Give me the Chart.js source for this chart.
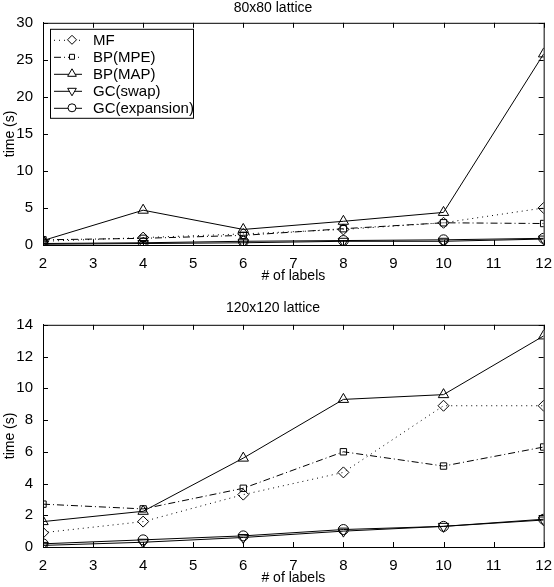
<!DOCTYPE html>
<html>
<head>
<meta charset="utf-8">
<script src="https://cdn.jsdelivr.net/npm/chart.js@4"></script>
<style>
  body { margin: 0; background: #fff; }
  .box { position: relative; width: 554px; }
</style>
</head>
<body>
<div class="box" style="height:290px"><canvas id="top"></canvas></div>
<div class="box" style="height:297px"><canvas id="bottom"></canvas></div>
<script>
const labels = [2, 4, 6, 8, 10, 12];
const seriesNames = ['MF', 'BP(MPE)', 'BP(MAP)', 'GC(swap)', 'GC(expansion)'];

// 80x80 lattice
const mf80 = [0.5, 1.0, 1.5, 2.1, 3.0, 5.0];
const mpe80 = [0.7, 0.9, 1.3, 2.2, 3.0, 2.9];
const map80 = [0.6, 4.7, 2.1, 3.2, 4.4, 25.8];
const swap80 = [0.1, 0.2, 0.3, 0.5, 0.5, 0.8];
const exp80 = [0.2, 0.3, 0.5, 0.6, 0.7, 0.9];

// 120x120 lattice
const mf120 = [0.9, 1.6, 3.3, 4.7, 8.9, 8.9];
const mpe120 = [2.7, 2.4, 3.7, 6.0, 5.1, 6.3];
const map120 = [1.6, 2.25, 5.6, 9.3, 9.6, 13.3];
const swap120 = [0.1, 0.3, 0.6, 1.0, 1.3, 1.7];
const exp120 = [0.2, 0.45, 0.7, 1.1, 1.3, 1.75];

const styles = [
  { dash: [1, 4], point: 'rectRot', rot: 0, r: 5.5 },
  { dash: [7, 3, 1, 3], point: 'rect', rot: 0, r: 4.5 },
  { dash: [], point: 'triangle', rot: 0, r: 6 },
  { dash: [], point: 'triangle', rot: 180, r: 6 },
  { dash: [], point: 'circle', rot: 0, r: 5 }
];

const FONT = '"Liberation Sans", Arial, sans-serif';

function makeSets(arrs) {
  return arrs.map((d, i) => ({
    label: seriesNames[i],
    data: d.map((v, j) => ({ x: labels[j], y: v })),
    borderColor: '#000',
    backgroundColor: 'rgba(255,255,255,0)',
    borderWidth: 1,
    borderDash: styles[i].dash,
    pointStyle: styles[i].point,
    pointRotation: styles[i].rot,
    pointRadius: styles[i].r,
    pointBorderWidth: 1,
    pointBorderColor: '#000',
    pointBackgroundColor: 'rgba(255,255,255,0)',
    tension: 0
  }));
}

// box + inward ticks like the original
const frame = {
  id: 'frame',
  afterDraw(chart) {
    const { ctx, chartArea: a, scales } = chart;
    ctx.save();
    ctx.strokeStyle = '#000';
    ctx.lineWidth = 1;
    ctx.setLineDash([]);
    ctx.strokeRect(a.left + 0.5, a.top + 0.5, a.right - a.left, a.bottom - a.top);
    ctx.beginPath();
    for (const t of scales.x.ticks) {
      const px = Math.round(scales.x.getPixelForValue(t.value)) + 0.5;
      ctx.moveTo(px, a.bottom);
      ctx.lineTo(px, a.bottom - 5);
      ctx.moveTo(px, a.top);
      ctx.lineTo(px, a.top + 5);
    }
    for (const t of scales.y.ticks) {
      const py = Math.round(scales.y.getPixelForValue(t.value)) + 0.5;
      ctx.moveTo(a.left, py);
      ctx.lineTo(a.left + 5, py);
      ctx.moveTo(a.right, py);
      ctx.lineTo(a.right - 5, py);
    }
    ctx.stroke();
    ctx.restore();
  }
};

// matlab style legend box inside the top chart
const boxLegend = {
  id: 'boxLegend',
  afterDraw(chart, args, opts) {
    if (!opts.show) return;
    const { ctx, chartArea: a } = chart;
    const x0 = a.left + 7, y0 = a.top + 6, w = 143, h = 89, rowH = 17;
    ctx.save();
    ctx.fillStyle = '#fff';
    ctx.fillRect(x0, y0, w, h);
    ctx.strokeStyle = '#000';
    ctx.lineWidth = 1;
    ctx.strokeRect(x0 + 0.5, y0 + 0.5, w, h);
    chart.data.datasets.forEach((ds, i) => {
      const cy = y0 + 11 + i * rowH;
      ctx.strokeStyle = '#000';
      ctx.setLineDash(ds.borderDash);
      ctx.beginPath();
      ctx.moveTo(x0 + 4, cy + 0.5);
      ctx.lineTo(x0 + 32, cy + 0.5);
      ctx.stroke();
      ctx.setLineDash([]);
      ctx.fillStyle = '#fff';
      Chart.helpers.drawPoint(ctx, {
        pointStyle: ds.pointStyle, rotation: ds.pointRotation,
        radius: ds.pointRadius - 1, borderWidth: 1
      }, x0 + 22, cy);
      ctx.fillStyle = '#000';
      ctx.font = '15px ' + FONT;
      ctx.textBaseline = 'middle';
      ctx.fillText(ds.label, x0 + 43, cy + 1);
    });
    ctx.restore();
  }
};

function makeChart(id, sets, title, yMax, yStep, pad, titlePad, legend) {
  return new Chart(document.getElementById(id), {
    type: 'line',
    data: { datasets: makeSets(sets) },
    plugins: [frame, boxLegend],
    options: {
      responsive: true,
      maintainAspectRatio: false,
      animation: false,
      layout: { padding: pad },
      plugins: {
        legend: { display: false },
        tooltip: { enabled: false },
        title: {
          display: true, text: title, color: '#000',
          font: { family: FONT, size: 14, weight: 'normal' },
          padding: titlePad
        },
        boxLegend: { show: legend }
      },
      scales: {
        x: {
          type: 'linear', min: 2, max: 12,
          ticks: { stepSize: 1, color: '#000', padding: 2, font: { family: FONT, size: 15 } },
          grid: { display: false },
          border: { color: '#000' },
          title: { display: true, text: '# of labels', color: '#000', padding: { top: 1, bottom: 0 }, font: { family: FONT, size: 14 } },
          afterFit: s => { s.height = 40; }
        },
        y: {
          min: 0, max: yMax,
          ticks: { stepSize: yStep, color: '#000', padding: 2, font: { family: FONT, size: 15 } },
          grid: { display: false },
          border: { color: '#000' },
          title: { display: true, text: 'time (s)', color: '#000', padding: 0, font: { family: FONT, size: 14 } },
          afterFit: s => { s.width = 41; }
        }
      }
    }
  });
}

makeChart('top', [mf80, mpe80, map80, swap80, exp80], '80x80 lattice', 30, 5,
  { left: 2, right: 10, top: 0, bottom: 5 }, { top: 0, bottom: 6 }, true);
makeChart('bottom', [mf120, mpe120, map120, swap120, exp120], '120x120 lattice', 14, 2,
  { left: 2, right: 10, top: 0, bottom: 0 }, { top: 10, bottom: 8 }, false);
</script>
</body>
</html>
